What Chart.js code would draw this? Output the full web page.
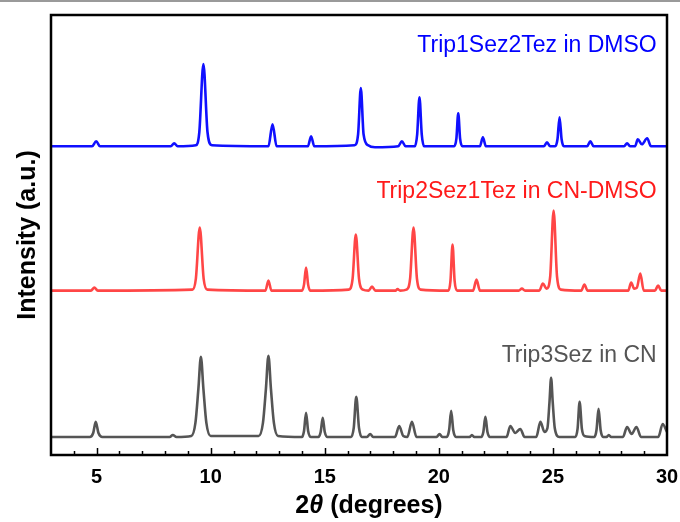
<!DOCTYPE html>
<html>
<head>
<meta charset="utf-8">
<script src="https://cdn.jsdelivr.net/npm/chart.js@4.4.1/dist/chart.umd.min.js"></script>
<style>
  body { margin: 0; background: #fff; }
  canvas { display: block; }
</style>
</head>
<body>
<canvas id="xrdChart" width="680" height="522"></canvas>
<script>
// 2-theta positions (degrees) and intensities (a.u.)
var blueX = [3.0, 4.8, 4.98, 5.15, 8.25, 8.4, 8.55, 9.35, 9.5, 9.68, 9.86, 10.05,
  12.53, 12.71, 12.89, 14.26, 14.4, 14.54, 16.3, 16.46, 16.58, 16.7, 16.9, 17.2,
  18.22, 18.38, 18.54, 18.95, 19.05, 19.15, 19.25, 19.35, 20.67, 20.77, 20.85, 20.93, 21.03,
  21.8, 21.93, 22.06, 24.6, 24.74, 24.88, 25.1, 25.2, 25.29, 25.38, 25.48,
  26.5, 26.64, 26.78, 28.12, 28.25, 28.38, 28.6, 28.72, 28.9, 29.13, 29.3, 30.0];
var blueY = [0, 0, 5, 0, 0, 3, 0, 1, 14, 82, 14, 1,
  0, 22, 0, 0, 10, 0, 1, 12, 58, 12, 1, -1,
  0, 5, 0, 0, 12, 49, 12, 0, 0, 8, 33, 8, 0,
  0, 9, 0, 0, 4, 0, 0, 7, 29, 7, 0,
  0, 5, 0, 0, 3, 0, 0, 7, 2, 8, 0, 0];

var redX = [3.0, 4.75, 4.9, 5.05, 9.2, 9.35, 9.52, 9.69, 9.85, 12.4, 12.53, 12.66,
  14.0, 14.09, 14.18, 14.27, 14.36, 16.05, 16.22, 16.36, 16.5, 16.67, 16.92, 17.07, 17.22,
  18.1, 18.19, 18.3, 18.58, 18.74, 18.89, 19.04, 19.2, 20.42, 20.51, 20.6, 20.69, 20.8,
  21.5, 21.65, 21.8, 23.5, 23.64, 23.78, 24.4, 24.56, 24.72, 24.88, 25.03, 25.18, 25.35,
  26.24, 26.38, 26.52, 28.3, 28.43, 28.56, 28.68, 28.83, 28.98, 29.47, 29.61, 29.75, 30.0];
var redY = [0, 0, 3, 0, 1, 12, 63, 12, 1, 0, 10, 0,
  0, 6, 23, 6, 0, 1, 12, 56, 12, 1, 0, 4, 0,
  0, 1.5, 0, 1, 12, 63, 12, 1, 0, 10, 46, 10, 0,
  0, 11, 0, 0, 2, 0, 0, 7, 2, 14, 80, 14, 1,
  0, 6, 0, 0, 8, 2, 3, 17, 0, 0, 5, 0, 0];

var grayX = [3.0, 4.7, 4.85, 4.96, 5.08, 5.25, 8.2, 8.34, 8.5,
  9.15, 9.33, 9.46, 9.57, 9.68, 9.81, 10.0, 12.1, 12.29, 12.42, 12.53, 12.64, 12.77, 12.95,
  14.0, 14.09, 14.18, 14.27, 14.4, 14.72, 14.82, 14.91, 15.0, 15.12,
  16.15, 16.27, 16.38, 16.5, 16.62, 16.85, 16.99, 17.12,
  18.08, 18.26, 18.44, 18.62, 18.82, 19.02, 19.9, 20.03, 20.15,
  20.35, 20.45, 20.54, 20.63, 20.75, 21.35, 21.45, 21.55,
  21.86, 21.95, 22.04, 22.13, 22.24, 22.97, 23.13, 23.35, 23.57, 23.76,
  24.27, 24.45, 24.63, 24.76, 24.85, 24.92, 24.99, 25.08, 25.28,
  25.98, 26.08, 26.17, 26.27, 26.38, 26.82, 26.91, 27.0, 27.09, 27.2,
  27.35, 27.45, 27.55, 28.07, 28.25, 28.45, 28.66, 28.86, 29.62, 29.81, 30.0];
var grayY = [0, 0, 4, 15, 4, 0, 0, 2, 0,
  1, 14, 48, 80, 48, 14, 1, 1, 14, 48, 81, 48, 14, 1,
  0, 6, 24, 6, 0, 0, 5, 19, 5, 0,
  0, 9, 40, 9, 0, 0, 3, 0,
  0, 11, 1, 0, 15, 0, 0, 3, 0,
  0, 7, 26, 7, 0, 0, 2, 0,
  0, 5, 20, 5, 0, 0, 11, 4, 8, 0,
  0, 15, 5, 9, 35, 59, 35, 9, 0,
  0, 8, 35, 8, 1, 0, 7, 28, 7, 0,
  0, 2, 0, 0, 10, 3, 10, 0, 0, 13, 5];

var seriesNames = ["Trip1Sez2Tez in DMSO", "Trip2Sez1Tez in CN-DMSO", "Trip3Sez in CN"];
var stackOffsets = [308, 164, 18];
var majorTicks = [5, 10, 15, 20, 25, 30];

var FONT = "'Liberation Sans', Arial, Helvetica, sans-serif";

function toPoints(xs, ys, offset) {
  return xs.map(function (x, i) {
    return { x: x, y: ys[i] + offset };
  });
}

var framePlugin = {
  id: "frame",
  afterDatasetsDraw: function (chart) {
    var ctx = chart.ctx;
    var a = chart.chartArea;
    var xs = chart.scales.x;
    ctx.save();
    // inward ticks on bottom axis
    ctx.strokeStyle = "#000";
    ctx.lineWidth = 1.5;
    for (var v = 4; v <= 29; v++) {
      var px = Math.round(xs.getPixelForValue(v)) + 0.5;
      var len = majorTicks.indexOf(v) >= 0 ? 7 : 4;
      ctx.beginPath();
      ctx.moveTo(px, a.bottom);
      ctx.lineTo(px, a.bottom - len);
      ctx.stroke();
    }
    // box
    ctx.lineWidth = 2.5;
    ctx.strokeRect(a.left, a.top, a.right - a.left, a.bottom - a.top);
    ctx.restore();
  },
  afterDraw: function (chart) {
    var ctx = chart.ctx;
    var a = chart.chartArea;
    var xs = chart.scales.x;
    var ys = chart.scales.y;
    ctx.save();

    // thin grey edge at top of the picture
    ctx.fillStyle = "#9a9a9a";
    ctx.fillRect(0, 0, chart.width, 2);

    // series labels
    var labelY = [402, 256, 93];
    ctx.font = "23px " + FONT;
    ctx.textAlign = "right";
    ctx.textBaseline = "alphabetic";
    chart.data.datasets.forEach(function (ds, i) {
      ctx.fillStyle = ds.labelColor;
      ctx.fillText(ds.label, xs.getPixelForValue(29.55), ys.getPixelForValue(labelY[i]));
    });

    // y title
    ctx.fillStyle = "#000";
    ctx.font = "bold 25px " + FONT;
    ctx.textAlign = "center";
    ctx.translate(35, 235);
    ctx.rotate(-Math.PI / 2);
    ctx.fillText("Intensity (a.u.)", 0, 0);
    ctx.setTransform(1, 0, 0, 1, 0, 0);

    // x title with italic theta
    var parts = [
      { t: "2", f: "bold 25px " + FONT },
      { t: "\u03B8", f: "italic bold 25px " + FONT },
      { t: " (degrees)", f: "bold 25px " + FONT }
    ];
    var total = 0;
    parts.forEach(function (p) { ctx.font = p.f; p.w = ctx.measureText(p.t).width; total += p.w; });
    var x0 = 369 - total / 2;
    ctx.textAlign = "left";
    parts.forEach(function (p) {
      ctx.font = p.f;
      ctx.fillText(p.t, x0, 513);
      x0 += p.w;
    });
    ctx.restore();
  }
};

var ctx = document.getElementById("xrdChart").getContext("2d");
var xrdChart = new Chart(ctx, {
  type: "line",
  data: {
    datasets: [
      {
        label: seriesNames[0],
        data: toPoints(blueX, blueY, stackOffsets[0]),
        borderColor: "#1010ff",
        labelColor: "#0000ff"
      },
      {
        label: seriesNames[1],
        data: toPoints(redX, redY, stackOffsets[1]),
        borderColor: "#ff4646",
        labelColor: "#ff1a1a"
      },
      {
        label: seriesNames[2],
        data: toPoints(grayX, grayY, stackOffsets[2]),
        borderColor: "#555555",
        labelColor: "#555555"
      }
    ]
  },
  options: {
    responsive: false,
    animation: false,
    devicePixelRatio: 1,
    layout: { padding: { left: 51, right: 13, top: 15, bottom: 33 } },
    elements: {
      point: { radius: 0 },
      line: {
        borderWidth: 2.6,
        cubicInterpolationMode: "monotone",
        borderJoinStyle: "round",
        borderCapStyle: "round"
      }
    },
    plugins: {
      legend: { display: false },
      tooltip: { enabled: false }
    },
    scales: {
      x: {
        type: "linear",
        min: 3,
        max: 30,
        grid: { display: false, drawTicks: true, tickLength: 10 },
        border: { display: false },
        ticks: {
          stepSize: 5,
          includeBounds: false,
          padding: 0,
          color: "#000",
          font: { family: FONT, size: 20, weight: "bold" }
        }
      },
      y: {
        display: false,
        min: 0,
        max: 439
      }
    }
  },
  plugins: [framePlugin]
});
</script>
</body>
</html>
